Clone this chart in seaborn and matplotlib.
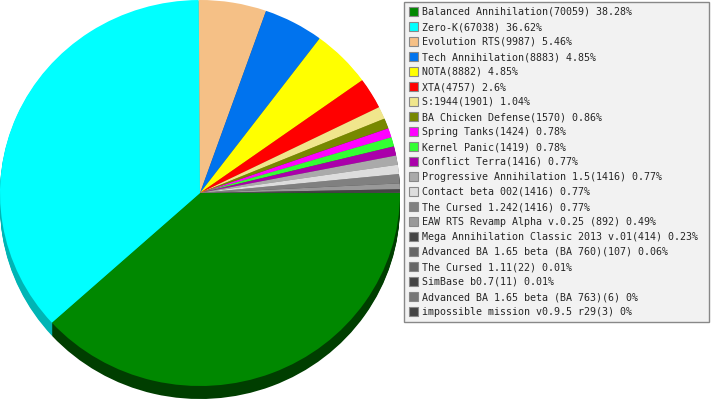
import matplotlib
matplotlib.use("Agg")
import matplotlib.pyplot as plt
import seaborn as sns
import numpy as np
from matplotlib.patches import Patch
from matplotlib.colors import to_rgb

games = ["Balanced Annihilation", "Zero-K", "Evolution RTS", "Tech Annihilation", "NOTA", "XTA",
         "S:1944", "BA Chicken Defense", "Spring Tanks", "Kernel Panic", "Conflict Terra",
         "Progressive Annihilation 1.5", "Contact beta 002", "The Cursed 1.242",
         "EAW RTS Revamp Alpha v.0.25 ", "Mega Annihilation Classic 2013 v.01",
         "Advanced BA 1.65 beta (BA 760)", "The Cursed 1.11", "SimBase b0.7",
         "Advanced BA 1.65 beta (BA 763)", "impossible mission v0.9.5 r29"]
counts = [70059, 67038, 9987, 8883, 8882, 4757, 1901, 1570, 1424, 1419, 1416,
          1416, 1416, 1416, 892, 414, 107, 22, 11, 6, 3]
pcts = ["38.28", "36.62", "5.46", "4.85", "4.85", "2.6", "1.04", "0.86", "0.78", "0.78", "0.77",
        "0.77", "0.77", "0.77", "0.49", "0.23", "0.06", "0.01", "0.01", "0", "0"]
colors = ["#008800", "#00ffff", "#f5c086", "#0073ee", "#ffff00", "#ff0000", "#f0e68c",
          "#778800", "#ff00ff", "#33ff33", "#aa00aa", "#aaaaaa", "#dddddd", "#808080",
          "#999999", "#444444", "#666666", "#666666", "#444444", "#777777", "#444444"]

sns.set_style("white")
palette = sns.color_palette(colors)
# darker side of the "3d" pie
shadow = [tuple(np.clip(np.array(to_rgb(c)) - 0.29, 0, 1)) for c in palette]

fig = plt.figure(figsize=(7.13, 4), dpi=100)
ax = fig.add_axes([0, 0, 400 / 713, 1])

depth = 13 / 193
# stack a few shifted copies to fake the pie's thickness
for off in np.linspace(depth, depth / 13, 13):
    ax.pie(counts, colors=shadow, startangle=0, counterclock=False, radius=1,
           center=(0, -off), wedgeprops=dict(linewidth=0))
ax.pie(counts, colors=palette, startangle=0, counterclock=False, radius=1,
       center=(0, 0), wedgeprops=dict(linewidth=0))
ax.set_aspect("auto")
ax.set_xlim(-1.0, 1.0)
ax.set_ylim(-1.0725, 1.0)
ax.axis("off")

labels = ["{0}({1}) {2}%".format(g, c, p) for g, c, p in zip(games, counts, pcts)]
handles = [Patch(facecolor=c, edgecolor="#888888", linewidth=0.8) for c in palette]
leg = fig.legend(handles, labels, loc="upper left", mode="expand",
                 bbox_to_anchor=(404 / 713, 0, 305 / 713, 1 - 2 / 400),
                 prop={"family": "DejaVu Sans Mono", "size": 7.2},
                 handlelength=0.9, handleheight=0.9, handletextpad=0.4,
                 labelspacing=0.5, borderpad=0.5, borderaxespad=0,
                 fancybox=False, framealpha=1, facecolor="#f2f2f2", edgecolor="#888888")
leg.get_frame().set_linewidth(1)

fig.savefig("out.png", dpi=100)
